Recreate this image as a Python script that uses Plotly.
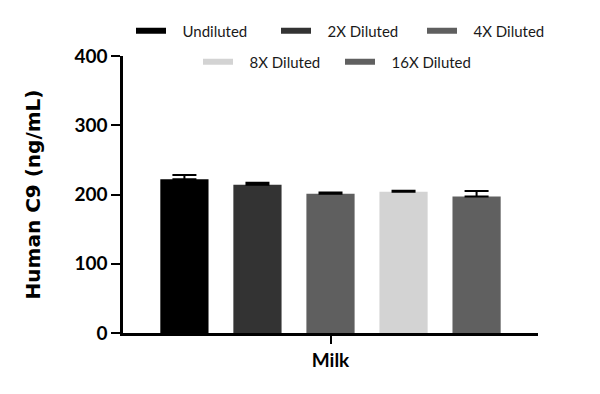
import plotly.graph_objects as go

categories = ["Milk"]
series_names = ["Undiluted", "2X Diluted", "4X Diluted", "8X Diluted", "16X Diluted"]
means = [222, 214, 201, 204, 197]
errors_up = [6, 3, 2, 1.5, 8]
colors = ["#000000", "#333333", "#5f5f5f", "#d3d3d3", "#606060"]
y_ticks = [0, 100, 200, 300, 400]

# legend layout: (marker left edge px, row center px)
legend_pos = [(136, 31), (281, 31), (427, 31), (203, 62), (345, 62)]

fig = go.Figure()
for i, name in enumerate(series_names):
    fig.add_trace(go.Bar(
        x=categories, y=[means[i]], name=name, showlegend=False,
        marker=dict(color=colors[i], line=dict(width=0)),
        error_y=dict(type="data", symmetric=False, array=[errors_up[i]], arrayminus=[0],
                     color="#000000", thickness=2, width=12),
    ))
pad = "\u00a0\u00a0\u00a0"
legend_keys = ["legend", "legend2", "legend3", "legend4", "legend5"]
for i, name in enumerate(series_names):
    fig.add_trace(go.Scatter(
        x=[None], y=[None], mode="lines", name=pad + name,
        line=dict(color=colors[i], width=6),
        legend=legend_keys[i],
    ))

legend_common = dict(orientation="h", xanchor="left", yanchor="middle",
                      xref="container", yref="container",
                      font=dict(family="Lato", size=15, color="#1a1a1a"),
                      itemclick=False, bgcolor="rgba(0,0,0,0)")
legend_layout = {}
for key, (px, py) in zip(legend_keys, legend_pos):
    legend_layout[key] = dict(x=(px - 5) / 600, y=1 - py / 394, **legend_common)

fig.update_layout(
    width=600, height=394,
    margin=dict(l=123, r=62, t=56, b=61, autoexpand=False),
    plot_bgcolor="white", paper_bgcolor="white",
    barmode="group", bargap=0.12, bargroupgap=0.34,
    showlegend=True,
    font=dict(family="Lato", color="#000000"),
    **legend_layout,
)
fig.update_xaxes(
    type="category", showline=True, linecolor="#000000", linewidth=2.5,
    ticks="outside", ticklen=8, tickwidth=2, tickcolor="#000000",
    tickfont=dict(family="Lato", size=19, color="#000000", weight="bold"),
    showgrid=False, zeroline=False,
)
fig.update_yaxes(
    range=[0, 400], tickvals=y_ticks, showline=True, linecolor="#000000", linewidth=2.5,
    ticks="outside", ticklen=9, tickwidth=2, tickcolor="#000000",
    tickfont=dict(family="Lato", size=19, color="#000000", weight="bold"),
    title=dict(text="Human C9 (ng/mL)", font=dict(family="DejaVu Sans", size=20, color="#000000", weight="bold"), standoff=29),
    showgrid=False, zeroline=False,
)
fig.write_html("out.html", config={"displayModeBar": False},
               post_script="document.body.style.margin='0';")
